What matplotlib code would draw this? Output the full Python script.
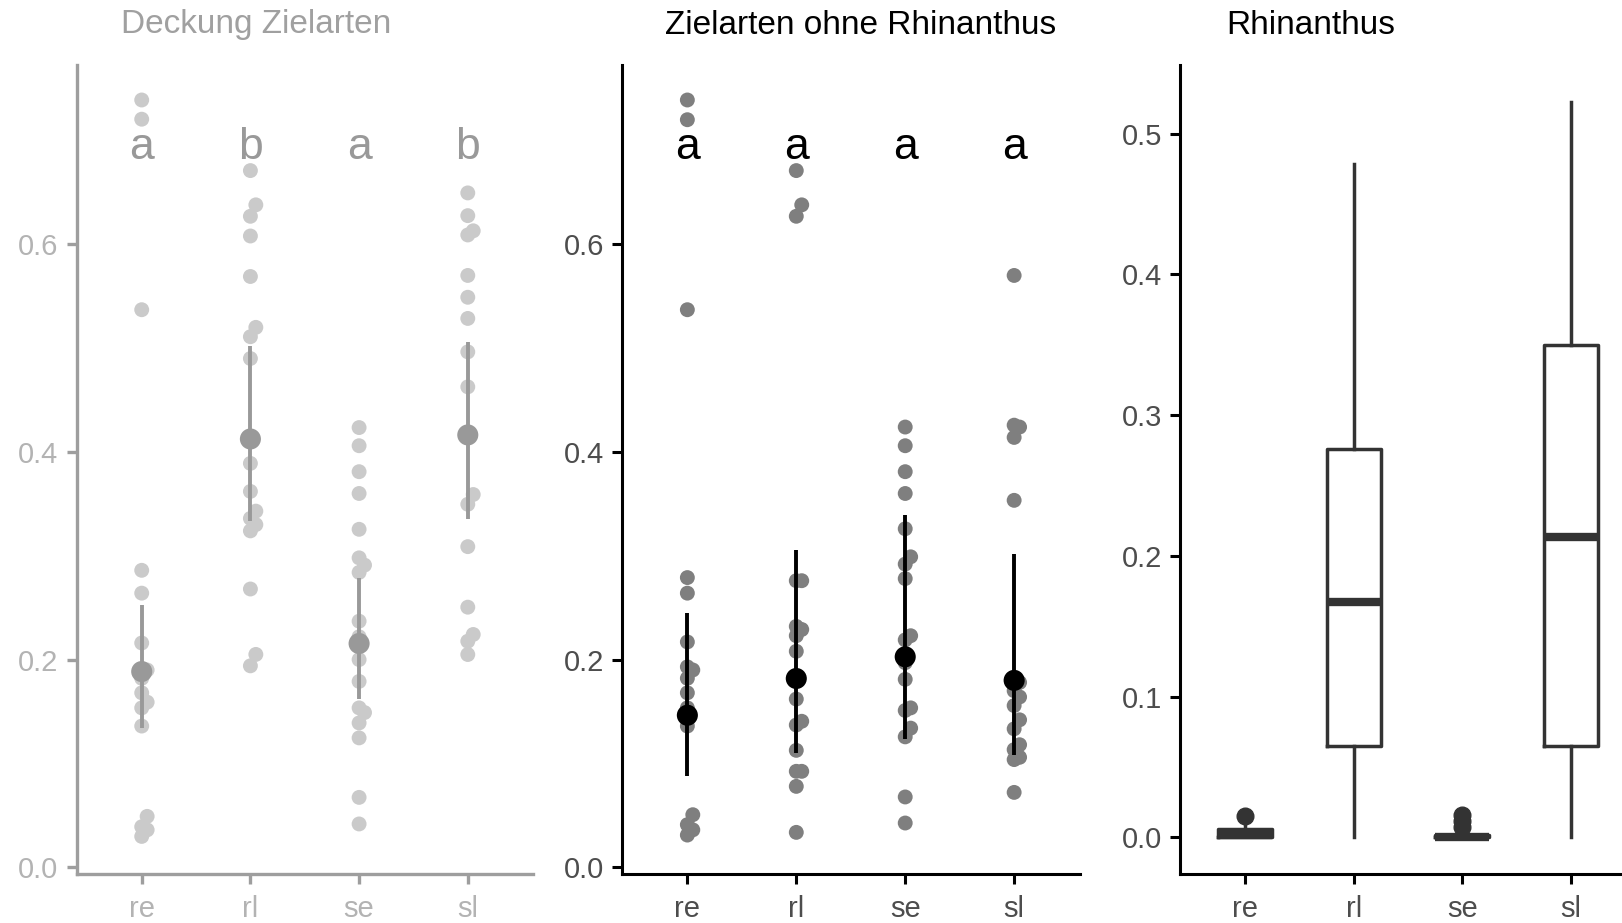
import numpy as np
import matplotlib
matplotlib.use("Agg")
import matplotlib.pyplot as plt

plt.rcParams['font.family'] = ['Liberation Sans', 'DejaVu Sans']

groups = ['re', 'rl', 'se', 'sl']

# Deckung Zielarten: raw plot values per group
total_re = [0.739, 0.7205, 0.537, 0.286, 0.264, 0.216, 0.19, 0.182, 0.168, 0.159, 0.1535, 0.136, 0.049, 0.039, 0.036, 0.0297]
total_rl = [0.671, 0.638, 0.627, 0.608, 0.569, 0.520, 0.511, 0.490, 0.389, 0.362, 0.343, 0.336, 0.330, 0.324, 0.268, 0.205, 0.194]
total_se = [0.4235, 0.406, 0.381, 0.360, 0.3255, 0.298, 0.291, 0.284, 0.237, 0.222, 0.200, 0.179, 0.1535, 0.149, 0.139, 0.1246, 0.0673, 0.0417]
total_sl = [0.6495, 0.6276, 0.613, 0.609, 0.570, 0.549, 0.5286, 0.4964, 0.4627, 0.359, 0.3496, 0.3088, 0.2505, 0.2242, 0.2177, 0.2049]
total_est = [0.1885, 0.4125, 0.2155, 0.4164]
total_lo = [0.134, 0.3335, 0.162, 0.335]
total_hi = [0.2525, 0.502, 0.279, 0.5055]
total_letters = ['a', 'b', 'a', 'b']

# Zielarten ohne Rhinanthus
ohne_re = [0.739, 0.72, 0.537, 0.279, 0.264, 0.217, 0.193, 0.19, 0.182, 0.168, 0.1535, 0.136, 0.0506, 0.041, 0.036, 0.031]
ohne_rl = [0.671, 0.638, 0.627, 0.276, 0.276, 0.232, 0.229, 0.223, 0.208, 0.162, 0.1406, 0.137, 0.1126, 0.0924, 0.0924, 0.0779, 0.0336]
ohne_se = [0.424, 0.406, 0.381, 0.360, 0.326, 0.299, 0.292, 0.278, 0.223, 0.219, 0.197, 0.181, 0.1535, 0.151, 0.134, 0.1256, 0.0677, 0.0426]
ohne_sl = [0.570, 0.4258, 0.424, 0.414, 0.3534, 0.178, 0.17, 0.164, 0.1557, 0.142, 0.1333, 0.118, 0.1133, 0.1059, 0.1037, 0.0721]
ohne_est = [0.1464, 0.1818, 0.2027, 0.180]
ohne_lo = [0.088, 0.110, 0.1236, 0.1085]
ohne_hi = [0.245, 0.3055, 0.339, 0.3013]
ohne_letters = ['a', 'a', 'a', 'a']

# Rhinanthus boxplot summaries
rh_q1 = [0.0, 0.0648, 0.0, 0.0648]
rh_med = [0.002, 0.1675, 0.0, 0.2133]
rh_q3 = [0.006, 0.2759, 0.0015, 0.3502]
rh_lo = [0.0, 0.0, 0.0, 0.0]
rh_hi = [0.008, 0.4785, 0.002, 0.5226]
rh_out = [[0.0152], [], [0.0157, 0.0114, 0.0071], []]

W, H = 1622, 923
fig = plt.figure(figsize=(W / 100, H / 100), dpi=100)


def px_axes(x0, x1, ytop, ybot):
    return fig.add_axes([x0 / W, 1 - ybot / H, (x1 - x0) / W, (ybot - ytop) / H])


def swarm_offsets(vals, gap=0.012, step=0.05):
    vals = np.asarray(vals)
    order = np.argsort(vals)
    offs = np.zeros(len(vals))
    prev = None
    for i in order:
        if prev is not None and abs(vals[i] - vals[prev]) < gap and offs[prev] == 0:
            offs[i] = step
        prev = i
    return offs


def style_axes(ax, spine_col, tick_col, lw):
    for s in ['top', 'right']:
        ax.spines[s].set_visible(False)
    for s in ['left', 'bottom']:
        ax.spines[s].set_color(spine_col)
        ax.spines[s].set_linewidth(lw)
    ax.tick_params(axis='both', colors=spine_col, width=lw, length=7,
                   labelsize=21, labelcolor=tick_col, pad=6)
    ax.tick_params(axis='x', pad=8)
    ax.set_xticks(range(1, 5))
    ax.set_xticklabels(groups)
    ax.set_xlim(0.4, 4.6)


def dot_panel(ax, data, est, lo, hi, letters, pt_col, mean_col, letter_col):
    for i, vals in enumerate(data):
        x = i + 1 + swarm_offsets(vals)
        ax.scatter(x, vals, s=115, color=pt_col, edgecolors='none', zorder=2)
    pos = np.arange(1, 5)
    ax.vlines(pos, lo, hi, color=mean_col, lw=2.8, zorder=3)
    ax.scatter(pos, est, s=230, color=mean_col, edgecolors='none', zorder=4)
    for p, t in zip(pos, letters):
        ax.text(p, 0.682, t, ha='center', va='baseline', fontsize=32,
                color=letter_col, zorder=5)
    ax.set_ylim(-0.0065, 0.7727)
    ax.set_yticks([0.0, 0.2, 0.4, 0.6])
    ax.set_yticklabels(['0.0', '0.2', '0.4', '0.6'])


# left panel: total cover
ax1 = px_axes(76.5, 533, 65, 874)
dot_panel(ax1, [total_re, total_rl, total_se, total_sl], total_est, total_lo, total_hi,
          total_letters, '#cacaca', '#999999', '#999999')
style_axes(ax1, '#9e9e9e', '#b3b3b3', 2.4)

# middle panel: without Rhinanthus
ax2 = px_axes(622, 1079.5, 65, 874)
dot_panel(ax2, [ohne_re, ohne_rl, ohne_se, ohne_sl], ohne_est, ohne_lo, ohne_hi,
          ohne_letters, '#7f7f7f', '#000000', '#000000')
style_axes(ax2, '#000000', '#4d4d4d', 2.2)

# right panel: Rhinanthus boxplots (runs past the right edge)
ax3 = px_axes(1180, 1636, 65, 874.3)
stats = []
for i in range(4):
    stats.append(dict(med=rh_med[i], q1=rh_q1[i], q3=rh_q3[i],
                      whislo=rh_lo[i], whishi=rh_hi[i], fliers=rh_out[i]))
box_col = '#333333'
ax3.bxp(stats, positions=range(1, 5), widths=0.5, showcaps=False,
        boxprops=dict(color=box_col, lw=2.5),
        whiskerprops=dict(color=box_col, lw=2.5),
        medianprops=dict(color=box_col, lw=6, solid_capstyle='butt'),
        flierprops=dict(marker='o', markerfacecolor=box_col, markeredgecolor=box_col,
                        markersize=12))
ax3.set_ylim(-0.0262, 0.5488)
ax3.set_yticks([0.0, 0.1, 0.2, 0.3, 0.4, 0.5])
ax3.set_yticklabels(['0.0', '0.1', '0.2', '0.3', '0.4', '0.5'])
style_axes(ax3, '#000000', '#4d4d4d', 2.2)

# panel titles
fig.text(121 / W, 1 - 33.5 / H, 'Deckung Zielarten', fontsize=24, color='#a0a0a0', va='baseline')
fig.text(665 / W, 1 - 33.5 / H, 'Zielarten ohne Rhinanthus', fontsize=24, color='#000000', va='baseline')
fig.text(1226 / W, 1 - 33.5 / H, 'Rhinanthus', fontsize=24, color='#000000', va='baseline')

fig.savefig('out.png', dpi=100, facecolor='white')
